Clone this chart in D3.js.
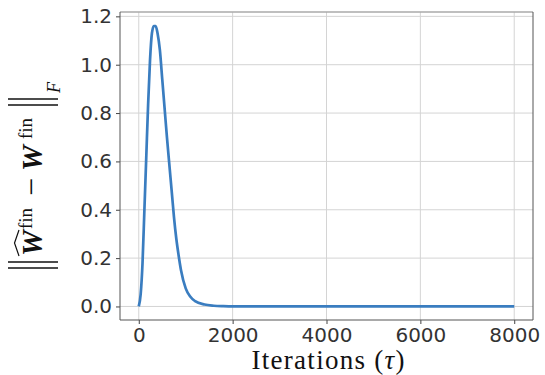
<!DOCTYPE html>
<meta charset="utf-8">
<style>
  body { margin: 0; background: #fff; }
  .tick text { font-family: "DejaVu Sans", sans-serif; font-size: 20px; fill: #333; }
  .serif { font-family: "Liberation Serif", "DejaVu Serif", serif; fill: #111; }
</style>
<script src="https://d3js.org/d3.v7.min.js"></script>
<body>
<div id="chart"></div>
<script>
  // values
  let iterations = [0, 40, 80, 120, 160, 200, 240, 280, 320, 360, 400, 450, 500, 550, 600, 650,
                    700, 750, 800, 850, 900, 1000, 1100, 1200, 1400, 1600, 1800, 2000, 8000];
  let normDiff = [0, 0.05, 0.18, 0.40, 0.62, 0.84, 1.02, 1.13, 1.16, 1.16, 1.13, 1.06, 0.94, 0.82, 0.70, 0.59,
                  0.48, 0.37, 0.28, 0.21, 0.15, 0.075, 0.04, 0.022, 0.008, 0.003, 0.001, 0, 0];
  let xTicks = [0, 2000, 4000, 6000, 8000];
  let yTicks = [0.0, 0.2, 0.4, 0.6, 0.8, 1.0, 1.2];

  let width = 545, height = 375;
  let margin = {top: 12, right: 12, bottom: 55, left: 120};

  let svg = d3.select("#chart").append("svg")
    .attr("width", width).attr("height", height);

  let x = d3.scaleLinear().domain([-400, 8400]).range([margin.left, width - margin.right]);
  let y = d3.scaleLinear().domain([-0.056, 1.218]).range([height - margin.bottom, margin.top]);

  // grid
  let grid = svg.append("g").attr("stroke", "#d4d4d4").attr("stroke-width", 1);
  grid.selectAll(".gx").data(xTicks).join("line")
    .attr("x1", d => x(d)).attr("x2", d => x(d))
    .attr("y1", margin.top).attr("y2", height - margin.bottom);
  grid.selectAll(".gy").data(yTicks).join("line")
    .attr("y1", d => y(d)).attr("y2", d => y(d))
    .attr("x1", margin.left).attr("x2", width - margin.right);

  // curve
  let data = iterations.map((t, i) => [t, normDiff[i]]);
  svg.append("path")
    .datum(data)
    .attr("fill", "none")
    .attr("stroke", "#3a7dc0")
    .attr("stroke-width", 2.7)
    .attr("d", d3.line().x(d => x(d[0])).y(d => y(d[1])).curve(d3.curveMonotoneX));

  // axes
  let xAxis = svg.append("g")
    .attr("transform", `translate(0,${height - margin.bottom})`)
    .call(d3.axisBottom(x).tickValues(xTicks).tickSize(4).tickPadding(4).tickFormat(d3.format("d")));
  let yAxis = svg.append("g")
    .attr("transform", `translate(${margin.left},0)`)
    .call(d3.axisLeft(y).tickValues(yTicks).tickSize(4).tickPadding(4).tickFormat(d3.format(".1f")));
  xAxis.select(".domain").remove();
  yAxis.select(".domain").remove();
  svg.selectAll(".tick line").attr("stroke", "#444");

  // spines
  let x0 = margin.left, x1 = width - margin.right, y0 = margin.top, y1 = height - margin.bottom;
  svg.append("line").attr("x1", x0).attr("x2", x1).attr("y1", y0).attr("y2", y0)
    .attr("stroke", "#aaa").attr("stroke-width", 1.5);
  svg.append("line").attr("x1", x0).attr("x2", x0).attr("y1", y0).attr("y2", y1)
    .attr("stroke", "#555").attr("stroke-width", 1);
  svg.append("line").attr("x1", x0).attr("x2", x1).attr("y1", y1).attr("y2", y1)
    .attr("stroke", "#555").attr("stroke-width", 1);
  svg.append("line").attr("x1", x1).attr("x2", x1).attr("y1", y0).attr("y2", y1)
    .attr("stroke", "#555").attr("stroke-width", 1);

  // x label
  let xl = svg.append("text").attr("class", "serif")
    .attr("x", 328).attr("y", 369).attr("text-anchor", "middle")
    .attr("font-size", 27).attr("textLength", 153).attr("lengthAdjust", "spacing");
  xl.append("tspan").text("Iterations (");
  xl.append("tspan").attr("font-style", "italic").text("τ");
  xl.append("tspan").text(")");

  // y label, drawn in a rotated frame (local x = -screen y)
  let yl = svg.append("g").attr("transform", "translate(42,0) rotate(-90)");
  let bars = yl.append("g").attr("stroke", "#111").attr("stroke-width", 1.4);
  [-268, -262, -105, -99].forEach(lx => {
    bars.append("line").attr("x1", lx).attr("x2", lx).attr("y1", -34).attr("y2", 16);
  });
  yl.append("text").attr("class", "serif").attr("x", -256).attr("y", 0)
    .attr("font-size", 29).attr("font-weight", "bold").attr("font-style", "italic").text("W");
  yl.append("path").attr("d", "M-256,-23 L-243,-27.5 L-230,-23")
    .attr("fill", "none").attr("stroke", "#111").attr("stroke-width", 1.2);
  yl.append("text").attr("class", "serif").attr("x", -229).attr("y", -10)
    .attr("font-size", 19).text("fin");
  yl.append("text").attr("class", "serif").attr("x", -196).attr("y", 0)
    .attr("font-size", 32).text("−");
  yl.append("text").attr("class", "serif").attr("x", -171).attr("y", 0)
    .attr("font-size", 29).attr("font-weight", "bold").attr("font-style", "italic").text("W");
  yl.append("text").attr("class", "serif").attr("x", -139).attr("y", -10)
    .attr("font-size", 19).text("fin");
  yl.append("text").attr("class", "serif").attr("x", -93).attr("y", 18)
    .attr("font-size", 18).attr("font-style", "italic").text("F");
</script>
</body>
